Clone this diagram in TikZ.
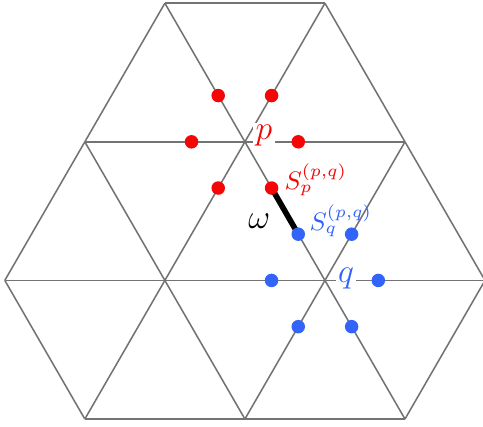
\documentclass[tikz,border=0pt]{standalone}
\usetikzlibrary{calc}
\definecolor{ptred}{RGB}{245,5,5}
\definecolor{ptblue}{RGB}{50,100,250}

\begin{document}
\begin{tikzpicture}[
    edge/.style={draw=black!55, line width=0.55pt},
    pdot/.style={fill=ptred},
    qdot/.style={fill=ptblue},
    vlabel/.style={fill=white, inner sep=0.8pt}
  ]
  \useasboundingbox (-0.06,-0.09) rectangle (5.975,5.236);

  % lattice points
  \coordinate (H) at (1,0);     \coordinate (I) at (3,0);     \coordinate (J) at (5,0);
  \coordinate (E) at (0,1.732); \coordinate (F) at (2,1.732); \coordinate (Q) at (4,1.732); \coordinate (G) at (6,1.732);
  \coordinate (C) at (1,3.464); \coordinate (P) at (3,3.464); \coordinate (D) at (5,3.464);
  \coordinate (A) at (2,5.196); \coordinate (B) at (4,5.196);

  \foreach \u/\v in {A/B,A/C,A/P,B/P,B/D,C/P,P/D,C/E,C/F,P/F,P/Q,D/Q,D/G,
                     E/F,F/Q,Q/G,E/H,F/H,F/I,Q/I,Q/J,G/J,H/I,I/J}
    \path[edge] (\u) -- (\v);

  % labels of the two vertices
  \node[vlabel, text=ptred, anchor=west] (plab) at ($(P)+(0.1,0.08)$) {\large $p$};
  \node[vlabel, text=ptblue, anchor=west] (qlab) at ($(Q)+(0.13,0.03)$) {\large $q$};

  % the bond between the two stars
  \path (P) ++(-60:0.667) coordinate (sp);
  \path (Q) ++(120:0.667) coordinate (sq);
  \draw[line width=2pt] (sp) -- (sq) node[pos=0.72, left=3pt] (om) {\large $\omega$};

  \foreach \a in {0,60,...,300}
    \fill[pdot] (P) ++(\a:0.667) circle (2.4pt);
  \foreach \a in {0,60,...,300}
    \fill[qdot] (Q) ++(\a:0.667) circle (2.4pt);

  \node[text=ptred, anchor=west, inner sep=1pt, font=\small] (splab) at ($(sp)+(0.12,0.1)$) {$S_p^{(p,q)}$};
  \node[text=ptblue, anchor=south west, inner sep=1pt, font=\small] (sqlab) at ($(sq)+(0.1,-0.08)$) {$S_q^{(p,q)}$};
\end{tikzpicture}
\end{document}
